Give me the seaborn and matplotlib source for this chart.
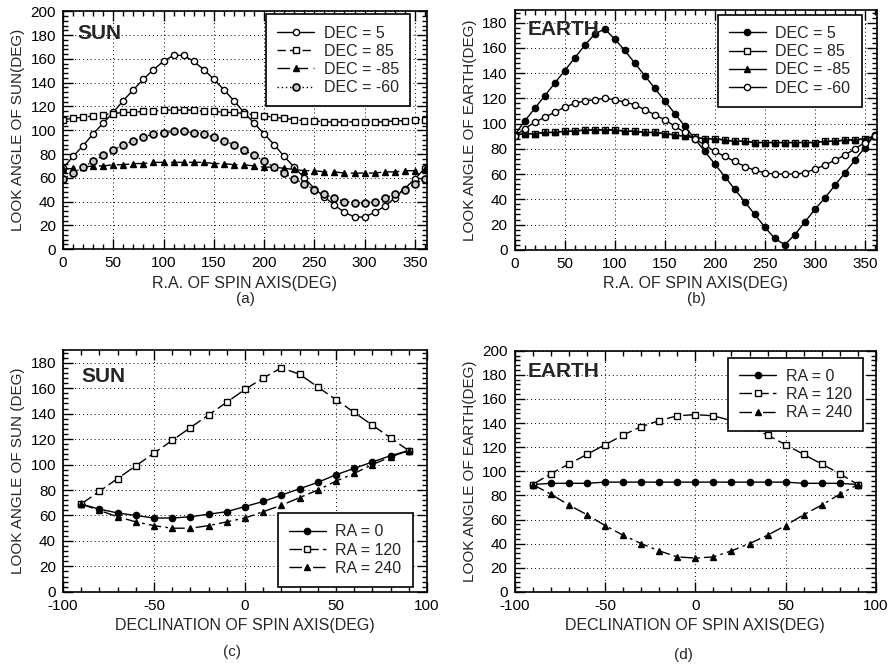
import matplotlib
matplotlib.use("Agg")
import matplotlib.pyplot as plt
import seaborn as sns
from matplotlib.ticker import MultipleLocator

# ---- data ----
ra = list(range(0, 361, 10))
dec = list(range(-90, 91, 10))

# (a) look angle of sun vs R.A.
sun_dec5 = [68, 78, 87, 97, 106, 115, 125, 134, 143, 151, 158, 163, 163, 158, 151, 143, 134, 125, 115,
            106, 97, 88, 78, 69, 60, 51, 44, 37, 31, 27, 27, 31, 36, 43, 51, 59, 68]
sun_dec85 = [109, 110, 111, 112, 113, 114, 115, 115, 116, 116, 117, 117, 117, 117, 116, 116, 115, 115, 114,
             113, 112, 111, 110, 109, 108, 108, 107, 107, 107, 107, 107, 107, 107, 108, 108, 109, 109]
sun_decm85 = [67, 68, 69, 70, 70, 71, 71, 72, 72, 73, 73, 73, 73, 73, 73, 72, 72, 71, 71,
              70, 69, 69, 68, 67, 66, 66, 65, 65, 64, 64, 64, 64, 65, 65, 66, 66, 67]
sun_decm60 = [59, 64, 69, 74, 79, 83, 88, 91, 94, 97, 98, 99, 99, 98, 97, 94, 91, 88, 83,
              79, 74, 69, 64, 59, 55, 50, 46, 43, 40, 39, 39, 40, 43, 46, 50, 55, 59]

# (b) look angle of earth vs R.A.
earth_dec5 = [91, 102, 112, 122, 132, 142, 152, 162, 171, 175, 167, 158, 148, 138, 128, 118, 108, 98, 88,
              78, 68, 58, 48, 38, 28, 18, 9, 4, 12, 22, 32, 41, 51, 61, 71, 81, 91]
earth_dec85 = [91, 92, 92, 93, 93, 94, 94, 95, 95, 95, 95, 94, 94, 93, 93, 92, 91, 90, 89,
               88, 88, 87, 86, 86, 85, 85, 85, 85, 85, 85, 85, 86, 86, 87, 87, 88, 90]
earth_decm85 = [91, 92, 92, 93, 93, 94, 94, 95, 95, 95, 95, 94, 94, 93, 93, 92, 91, 90, 89,
                88, 88, 87, 86, 86, 85, 85, 85, 85, 85, 85, 85, 86, 86, 87, 87, 88, 90]
earth_decm60 = [90, 96, 101, 105, 109, 113, 116, 118, 119, 120, 119, 117, 115, 111, 107, 103, 98, 93, 88,
                83, 78, 74, 70, 66, 63, 61, 60, 60, 60, 61, 64, 67, 71, 75, 80, 85, 90]

# (c) look angle of sun vs declination
sun_ra0 = [69, 65, 62, 60, 58, 58, 59, 61, 63, 67, 71, 76, 81, 86, 92, 97, 102, 107, 111]
sun_ra120 = [69, 79, 89, 99, 109, 119, 129, 139, 149, 159, 168, 176, 171, 161, 151, 141, 131, 121, 111]
sun_ra240 = [69, 64, 59, 55, 52, 50, 50, 52, 55, 58, 63, 68, 74, 80, 87, 93, 100, 106, 111]

# (d) look angle of earth vs declination
earth_ra0 = [89, 90, 90, 90, 91, 91, 91, 91, 91, 91, 91, 91, 91, 91, 91, 90, 90, 90, 89]
earth_ra120 = [89, 98, 106, 114, 122, 130, 137, 142, 146, 147, 146, 142, 137, 130, 122, 114, 106, 98, 89]
earth_ra240 = [89, 81, 72, 64, 55, 47, 40, 34, 29, 28, 29, 34, 40, 47, 55, 64, 72, 81, 89]

sns.set_style("ticks")
plt.rcParams['font.family'] = ['Liberation Sans', 'DejaVu Sans']
plt.rcParams['axes.linewidth'] = 1.2
plt.rcParams['axes.unicode_minus'] = False

fig = plt.figure(figsize=(8.92, 6.68), dpi=100)
ax_a = fig.add_axes([0.0706, 0.627, 0.408, 0.356])
ax_b = fig.add_axes([0.577, 0.626, 0.406, 0.359])
ax_c = fig.add_axes([0.0706, 0.114, 0.408, 0.362])
ax_d = fig.add_axes([0.577, 0.114, 0.405, 0.361])


def draw(ax, x, y, label, marker, ls, fill, ms=4.5, mew=1.0, face=None):
    if face is None:
        face = 'k' if fill else 'white'
    sns.lineplot(x=x, y=y, ax=ax, color='k', lw=1.0, linestyle=ls, marker=marker,
                 markersize=ms, markerfacecolor=face,
                 markeredgecolor='k', markeredgewidth=mew, label=label)


def style_axes(ax, xlim, ylim, xmaj, xmin, ymaj, ymin):
    ax.set_xlim(*xlim)
    ax.set_ylim(*ylim)
    ax.xaxis.set_major_locator(MultipleLocator(xmaj))
    ax.xaxis.set_minor_locator(MultipleLocator(xmin))
    ax.yaxis.set_major_locator(MultipleLocator(ymaj))
    ax.yaxis.set_minor_locator(MultipleLocator(ymin))
    ax.tick_params(which='both', direction='in', top=True, right=True, colors='k',
                   labelsize=11, width=1.0)
    ax.tick_params(which='major', length=7, pad=5)
    ax.tick_params(which='minor', length=3.5)
    ax.grid(True, which='major', linestyle=(0, (1, 3)), color='k', linewidth=0.7)
    for s in ax.spines.values():
        s.set_color('k')


def legend(ax, loc, anchor):
    leg = ax.legend(loc=loc, bbox_to_anchor=anchor, fancybox=False, framealpha=1,
                    edgecolor='k', fontsize=11.5, handlelength=2.3, labelspacing=0.2,
                    borderpad=0.7, handletextpad=0.6, borderaxespad=0)
    leg.get_frame().set_linewidth(1.2)
    return leg


# (a)
draw(ax_a, ra, sun_dec5, 'DEC = 5', 'o', '-', False)
draw(ax_a, ra, sun_dec85, 'DEC = 85', 's', (0, (6, 3)), False, ms=4)
draw(ax_a, ra, sun_decm85, 'DEC = -85', '^', (0, (9, 4)), True, ms=4.5)
draw(ax_a, ra, sun_decm60, 'DEC = -60', 'o', (0, (1, 2)), False, ms=5, mew=1.2, face='#c8c8c8')
style_axes(ax_a, (0, 362), (0, 200), 50, 10, 20, 4)
ax_a.set_xlabel('R.A. OF SPIN AXIS(DEG)', fontsize=11.5)
ax_a.set_ylabel('LOOK ANGLE OF SUN(DEG)', fontsize=11)
legend(ax_a, 'upper right', (0.953, 0.987))
ax_a.text(0.04, 0.945, 'SUN', transform=ax_a.transAxes, fontsize=15, fontweight='bold',
          va='top', ha='left')

# (b)
draw(ax_b, ra, earth_dec5, 'DEC = 5', 'o', '-', True)
draw(ax_b, ra, earth_dec85, 'DEC = 85', 's', '-', False, ms=4)
draw(ax_b, ra, earth_decm85, 'DEC = -85', '^', '-', True, ms=4)
draw(ax_b, ra, earth_decm60, 'DEC = -60', 'o', '-', False)
style_axes(ax_b, (0, 362), (0, 190), 50, 10, 20, 4)
ax_b.set_xlabel('R.A. OF SPIN AXIS(DEG)', fontsize=11.5)
ax_b.set_ylabel('LOOK ANGLE OF EARTH(DEG)', fontsize=11)
legend(ax_b, 'upper right', (0.958, 0.98))
ax_b.text(0.035, 0.96, 'EARTH', transform=ax_b.transAxes, fontsize=15, fontweight='bold',
          va='top', ha='left')

# (c)
draw(ax_c, dec, sun_ra0, 'RA = 0', 'o', '-', True)
draw(ax_c, dec, sun_ra120, 'RA = 120', 's', (0, (9, 3)), False, ms=4)
draw(ax_c, dec, sun_ra240, 'RA = 240', '^', (0, (9, 3, 2, 3)), True, ms=4)
style_axes(ax_c, (-100, 100), (0, 190), 50, 10, 20, 4)
ax_c.set_xlabel('DECLINATION OF SPIN AXIS(DEG)', fontsize=11.5)
ax_c.set_ylabel('LOOK ANGLE OF SUN (DEG)', fontsize=11)
legend(ax_c, 'lower right', (0.961, 0.02))
ax_c.text(0.05, 0.93, 'SUN', transform=ax_c.transAxes, fontsize=15, fontweight='bold',
          va='top', ha='left')

# (d)
draw(ax_d, dec, earth_ra0, 'RA = 0', 'o', '-', True)
draw(ax_d, dec, earth_ra120, 'RA = 120', 's', (0, (9, 3)), False, ms=4)
draw(ax_d, dec, earth_ra240, 'RA = 240', '^', (0, (9, 3, 2, 3)), True, ms=4)
style_axes(ax_d, (-100, 100), (0, 200), 50, 10, 20, 4)
ax_d.set_xlabel('DECLINATION OF SPIN AXIS(DEG)', fontsize=11.5)
ax_d.set_ylabel('LOOK ANGLE OF EARTH(DEG)', fontsize=11)
legend(ax_d, 'upper right', (0.964, 0.971))
ax_d.text(0.035, 0.955, 'EARTH', transform=ax_d.transAxes, fontsize=15, fontweight='bold',
          va='top', ha='left')

# panel captions
fig.text(0.275, 1 - 299 / 668, '(a)', ha='center', va='center', fontsize=11)
fig.text(0.781, 1 - 299 / 668, '(b)', ha='center', va='center', fontsize=11)
fig.text(0.26, 1 - 652 / 668, '(c)', ha='center', va='center', fontsize=11)
fig.text(0.766, 1 - 655 / 668, '(d)', ha='center', va='center', fontsize=11)

fig.savefig('out.png', dpi=100)
